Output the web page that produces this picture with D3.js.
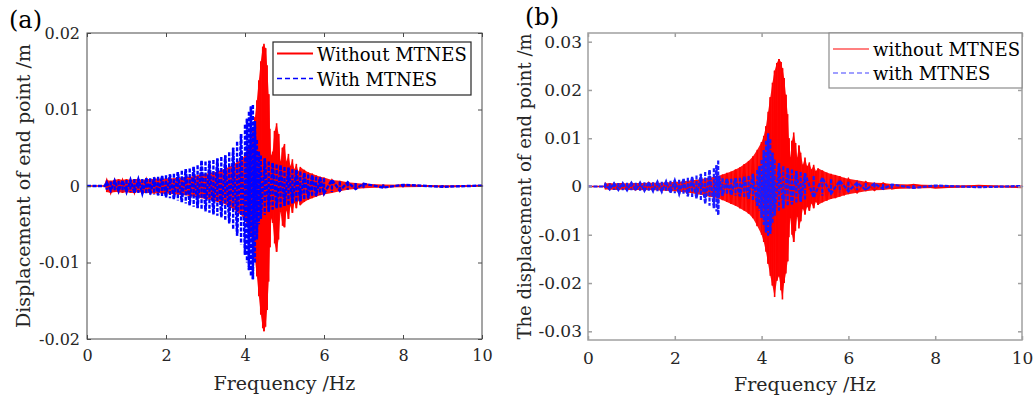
<!DOCTYPE html>
<html>
<head>
<meta charset="utf-8">
<script src="https://cdn.jsdelivr.net/npm/d3@7"></script>
<style>
	body{margin:0;background:#fff;}
	svg text{font-family:'DejaVu Serif', serif;}
</style>
</head>
<body>
<div class="chart"></div>
<script>
//tick values
const freqTicks = [0,2,4,6,8,10];
const dispTicksA = [-0.02,-0.01,0,0.01,0.02];
const dispTicksB = [-0.03,-0.02,-0.01,0,0.01,0.02,0.03];

//legend labels
const legendA = ['Without MTNES','With MTNES'];
const legendB = ['without MTNES','with MTNES'];

//envelopes: [frequency Hz, upper m, lower m]
const withoutA = [
	[0,0,0],[0.45,0,0],[0.5,.0008,-.0008],[0.6,.0007,-.0009],[0.7,.0008,-.0008],[0.8,.0009,-.0008],
	[0.9,.0008,-.0009],[1.0,.0009,-.0008],[1.1,.0008,-.0009],[1.2,.0009,-.0009],[1.3,.0009,-.0008],
	[1.4,.0008,-.0009],[1.5,.0009,-.0009],[1.6,.0009,-.0009],[1.7,.0009,-.0010],[1.8,.0010,-.0009],
	[1.9,.0009,-.0010],[2.0,.0010,-.0010],[2.1,.0010,-.0010],[2.2,.0010,-.0011],[2.3,.0011,-.0011],
	[2.4,.0011,-.0012],[2.5,.0012,-.0012],[2.6,.0012,-.0013],[2.7,.0013,-.0014],[2.8,.0014,-.0015],
	[2.9,.0015,-.0016],[3.0,.0016,-.0017],[3.1,.0017,-.0018],[3.2,.0018,-.0019],[3.3,.0019,-.0021],
	[3.4,.0021,-.0022],[3.5,.0023,-.0024],[3.6,.0025,-.0027],[3.7,.0028,-.0030],[3.8,.0031,-.0034],
	[3.9,.0035,-.0038],[4.0,.0040,-.0044],[4.05,.0045,-.0049],[4.1,.0052,-.0056],[4.15,.0060,-.0065],
	[4.2,.0072,-.0078],[4.25,.0090,-.0095],[4.3,.0112,-.0118],[4.35,.0138,-.0144],[4.4,.0163,-.0168],
	[4.45,.0182,-.0186],[4.48,.0186,-.0190],[4.52,.0180,-.0184],[4.56,.0158,-.0162],[4.6,.0120,-.0125],
	[4.63,.0075,-.0080],[4.66,.0040,-.0042],[4.7,.0045,-.0048],[4.75,.0072,-.0075],[4.8,.0082,-.0086],
	[4.85,.0068,-.0070],[4.9,.0032,-.0034],[4.95,.0050,-.0052],[5.0,.0055,-.0054],[5.05,.0032,-.0032],
	[5.1,.0042,-.0043],[5.15,.0026,-.0026],[5.2,.0035,-.0035],[5.25,.0022,-.0022],[5.3,.0029,-.0029],
	[5.35,.0019,-.0019],[5.4,.0025,-.0025],[5.5,.0021,-.0021],[5.6,.0018,-.0018],[5.7,.0016,-.0016],
	[5.8,.0014,-.0014],[5.9,.0012,-.0012],[6.0,.0011,-.0011],[6.2,.0008,-.0009],[6.4,.0007,-.0007],
	[6.6,.0005,-.0005],[6.8,.0004,-.0004],[7.0,.0003,-.0003],[7.5,.0002,-.0002],[8.0,.00015,-.00015],
	[9.0,.0001,-.0001],[10,.00005,-.00005]
];
const withA = [
	[0,0,0],[0.45,0,0],[0.5,.0005,-.0005],[0.6,.0006,-.0006],[0.7,.0007,-.0006],[0.8,.0007,-.0007],
	[0.9,.0007,-.0008],[1.0,.0008,-.0008],[1.1,.0008,-.0008],[1.2,.0009,-.0009],[1.3,.0009,-.0009],
	[1.4,.0009,-.0010],[1.5,.0010,-.0010],[1.6,.0010,-.0011],[1.7,.0011,-.0011],[1.8,.0012,-.0012],
	[1.9,.0013,-.0013],[2.0,.0014,-.0015],[2.1,.0015,-.0016],[2.2,.0016,-.0017],[2.3,.0018,-.0019],
	[2.4,.0020,-.0021],[2.5,.0022,-.0023],[2.6,.0023,-.0025],[2.7,.0025,-.0027],[2.8,.0027,-.0029],
	[2.9,.0033,-.0031],[3.0,.0032,-.0033],[3.1,.0033,-.0035],[3.2,.0034,-.0037],[3.3,.0036,-.0039],
	[3.4,.0038,-.0041],[3.5,.0040,-.0044],[3.6,.0044,-.0049],[3.7,.0050,-.0056],[3.8,.0058,-.0065],
	[3.9,.0068,-.0076],[4.0,.0080,-.0090],[4.05,.0088,-.0100],[4.1,.0097,-.0110],[4.15,.0104,-.0118],
	[4.2,.0106,-.0122],[4.25,.0085,-.0100],[4.3,.0060,-.0070],[4.35,.0045,-.0050],[4.4,.0040,-.0043],
	[4.5,.0036,-.0038],[4.6,.0032,-.0034],[4.7,.0030,-.0031],[4.8,.0028,-.0029],[4.9,.0027,-.0028],
	[5.0,.0025,-.0026],[5.1,.0024,-.0025],[5.2,.0022,-.0023],[5.3,.0021,-.0022],[5.4,.0019,-.0020],
	[5.5,.0017,-.0018],[5.6,.0015,-.0016],[5.7,.0014,-.0014],[5.8,.0012,-.0013],[5.9,.0011,-.0011],
	[6.0,.0010,-.0010],[6.2,.0008,-.0008],[6.4,.0006,-.0006],[6.6,.0005,-.0005],[6.8,.0004,-.0004],
	[7.0,.0003,-.0003],[7.5,.0002,-.0002],[8.0,.00015,-.00015],[9.0,.0001,-.0001],[10,.00005,-.00005]
];
const withoutB = [
	[0,0,0],[0.38,0,0],[0.4,.0006,-.0006],[0.5,.0007,-.0006],[0.6,.0006,-.0007],[0.7,.0007,-.0007],
	[0.8,.0007,-.0006],[0.9,.0006,-.0007],[1.0,.0007,-.0007],[1.1,.0007,-.0007],[1.2,.0007,-.0007],
	[1.3,.0007,-.0008],[1.4,.0008,-.0007],[1.5,.0008,-.0008],[1.6,.0008,-.0008],[1.7,.0008,-.0009],
	[1.8,.0009,-.0009],[1.9,.0009,-.0010],[2.0,.0010,-.0010],[2.1,.0010,-.0011],[2.2,.0011,-.0012],
	[2.3,.0012,-.0013],[2.4,.0013,-.0014],[2.5,.0014,-.0016],[2.6,.0015,-.0017],[2.7,.0017,-.0019],
	[2.8,.0018,-.0021],[2.9,.0020,-.0023],[3.0,.0022,-.0025],[3.1,.0025,-.0028],[3.2,.0028,-.0032],
	[3.3,.0031,-.0036],[3.4,.0035,-.0040],[3.5,.0040,-.0045],[3.6,.0046,-.0050],[3.7,.0053,-.0056],
	[3.8,.0062,-.0066],[3.9,.0076,-.0082],[4.0,.0092,-.0100],[4.05,.0105,-.0115],[4.1,.0125,-.0135],
	[4.15,.0155,-.0160],[4.2,.0185,-.0185],[4.25,.0215,-.0205],[4.3,.0240,-.0229],[4.35,.0256,-.0195],
	[4.4,.0264,-.0186],[4.45,.0258,-.0215],[4.48,.0245,-.0234],[4.52,.0225,-.0200],[4.56,.0190,-.0180],
	[4.6,.0150,-.0155],[4.63,.0100,-.0105],[4.66,.0060,-.0065],[4.7,.0095,-.0100],[4.74,.0112,-.0115],
	[4.78,.0090,-.0092],[4.82,.0060,-.0062],[4.86,.0085,-.0087],[4.9,.0070,-.0072],[4.95,.0045,-.0046],
	[5.0,.0060,-.0058],[5.05,.0042,-.0042],[5.1,.0050,-.0050],[5.15,.0035,-.0035],[5.2,.0045,-.0045],
	[5.25,.0032,-.0032],[5.3,.0038,-.0038],[5.4,.0033,-.0033],[5.5,.0029,-.0029],[5.6,.0026,-.0026],
	[5.7,.0024,-.0024],[5.8,.0021,-.0021],[5.9,.0018,-.0018],[6.0,.0016,-.0016],[6.2,.0013,-.0013],
	[6.4,.0010,-.0010],[6.6,.0008,-.0008],[6.8,.0007,-.0007],[7.0,.0005,-.0005],[7.5,.0004,-.0004],
	[8.0,.0003,-.0003],[9.0,.0002,-.0002],[10,.0002,-.0002]
];
const withB = [
	[0,0,0],[0.38,0,0],[0.4,.0005,-.0005],[0.5,.0006,-.0006],[0.6,.0007,-.0007],[0.7,.0007,-.0007],
	[0.8,.0007,-.0008],[0.9,.0008,-.0008],[1.0,.0008,-.0008],[1.1,.0008,-.0008],[1.2,.0008,-.0009],
	[1.3,.0009,-.0009],[1.4,.0009,-.0009],[1.5,.0009,-.0010],[1.6,.0010,-.0010],[1.7,.0010,-.0011],
	[1.8,.0011,-.0012],[1.9,.0012,-.0013],[2.0,.0013,-.0014],[2.1,.0014,-.0016],[2.2,.0016,-.0018],
	[2.3,.0018,-.0020],[2.4,.0020,-.0022],[2.5,.0023,-.0025],[2.6,.0026,-.0030],[2.7,.0030,-.0035],
	[2.8,.0034,-.0040],[2.9,.0038,-.0045],[2.96,.0044,-.0052],[3.0,.0054,-.0060],[3.02,.0022,-.0024],
	[3.1,.0017,-.0019],[3.2,.0016,-.0018],[3.3,.0016,-.0018],[3.4,.0017,-.0019],[3.5,.0018,-.0020],
	[3.6,.0020,-.0022],[3.7,.0022,-.0025],[3.8,.0026,-.0030],[3.9,.0034,-.0040],[3.95,.0042,-.0050],
	[4.0,.0055,-.0065],[4.05,.0075,-.0080],[4.1,.0095,-.0095],[4.15,.0110,-.0102],[4.2,.0098,-.0098],
	[4.25,.0070,-.0075],[4.3,.0056,-.0060],[4.4,.0048,-.0050],[4.5,.0042,-.0045],[4.6,.0038,-.0040],
	[4.7,.0035,-.0037],[4.8,.0032,-.0034],[4.9,.0030,-.0031],[5.0,.0027,-.0028],[5.2,.0022,-.0023],
	[5.4,.0018,-.0019],[5.6,.0015,-.0015],[5.8,.0012,-.0012],[6.0,.0010,-.0010],[6.2,.0008,-.0008],
	[6.4,.0007,-.0007],[6.6,.0006,-.0006],[6.8,.0005,-.0005],[7.0,.0004,-.0004],[7.5,.0003,-.0003],
	[8.0,.0002,-.0002],[9.0,.00015,-.00015],[10,.0001,-.0001]
];

const W = 1035, H = 400;
const svg = d3.select('.chart').append('svg')
	.attr('width', W)
	.attr('height', H);

const fmt = d => String(+d.toFixed(2));

function drawPanel(cfg){
	const x = d3.scaleLinear().domain([0,10]).range([cfg.l, cfg.r]);
	const y = d3.scaleLinear().domain(cfg.yDomain).range([cfg.b, cfg.t]);
	const g = svg.append('g');

	//signals: envelope fill + a stroke per sample + zigzag between upper/lower
	cfg.series.forEach(s => {
		const sg = g.append('g');
		if(s.fill){
			sg.append('path').datum(s.data)
				.attr('d', d3.area().x(d => x(d[0])).y0(d => y(d[2])).y1(d => y(d[1])))
				.attr('fill', s.color)
				.attr('fill-opacity', s.fill);
		}
		sg.selectAll('line').data(s.data).join('line')
			.attr('x1', d => x(d[0])).attr('x2', d => x(d[0]))
			.attr('y1', d => y(d[1])).attr('y2', d => y(d[2]))
			.attr('stroke', s.color)
			.attr('stroke-width', s.width)
			.attr('stroke-dasharray', s.dash);
		sg.append('path').datum(s.data)
			.attr('d', d3.line().x(d => x(d[0])).y((d,i) => y(i%2 ? d[2] : d[1])))
			.attr('fill', 'none')
			.attr('stroke', s.color)
			.attr('stroke-width', s.width)
			.attr('stroke-dasharray', s.dash);
	});

	//axes, ticks inside on all four sides
	const ax = g.append('g').attr('color', cfg.axisColor);
	ax.append('g').attr('transform', `translate(0,${cfg.b})`)
		.call(d3.axisBottom(x).tickValues(freqTicks).tickSize(-4).tickPadding(cfg.xPad).tickFormat(fmt));
	ax.append('g').attr('transform', `translate(0,${cfg.t})`)
		.call(d3.axisTop(x).tickValues(freqTicks).tickSize(-4).tickFormat(''));
	ax.append('g').attr('transform', `translate(${cfg.l},0)`)
		.call(d3.axisLeft(y).tickValues(cfg.yTicks).tickSize(-4).tickPadding(cfg.yPad).tickFormat(fmt));
	ax.append('g').attr('transform', `translate(${cfg.r},0)`)
		.call(d3.axisRight(y).tickValues(cfg.yTicks).tickSize(-4).tickFormat(''));
	ax.selectAll('.domain').remove();
	ax.selectAll('.tick line').attr('stroke-width', cfg.axisWidth);
	ax.selectAll('.tick text')
		.attr('fill', '#262626')
		.style('font-family', "'DejaVu Serif', serif")
		.style('font-size', cfg.tickSize + 'px');
	ax.append('rect')
		.attr('x', cfg.l).attr('y', cfg.t)
		.attr('width', cfg.r - cfg.l).attr('height', cfg.b - cfg.t)
		.attr('fill', 'none')
		.attr('stroke', cfg.axisColor)
		.attr('stroke-width', cfg.axisWidth);

	//axis titles
	g.append('text')
		.attr('x', (cfg.l + cfg.r)/2).attr('y', cfg.xTitleY)
		.attr('text-anchor', 'middle')
		.attr('fill', '#262626')
		.style('font-size', '19px')
		.text('Frequency /Hz');
	g.append('text')
		.attr('transform', `translate(${cfg.yTitleX},${(cfg.t + cfg.b)/2}) rotate(-90)`)
		.attr('text-anchor', 'middle')
		.attr('fill', '#262626')
		.style('font-size', cfg.yTitleSize + 'px')
		.text(cfg.yTitle);

	//panel tag
	g.append('text')
		.attr('x', cfg.tag[1]).attr('y', cfg.tag[2])
		.style('font-size', '24px')
		.attr('fill', '#000')
		.text(cfg.tag[0]);

	//legend
	const lg = g.append('g');
	const lb = cfg.legendBox;
	lg.append('rect')
		.attr('x', lb.x).attr('y', lb.y).attr('width', lb.w).attr('height', lb.h)
		.attr('fill', '#fff')
		.attr('stroke', cfg.legendStroke)
		.attr('stroke-width', 1.2);
	cfg.series.forEach((s,i) => {
		const ly = lb.y + lb.first + i*lb.step;
		lg.append('line')
			.attr('x1', lb.x + 4).attr('x2', lb.x + 40)
			.attr('y1', ly).attr('y2', ly)
			.attr('stroke', s.legendColor)
			.attr('stroke-width', s.legendWidth)
			.attr('stroke-dasharray', s.legendDash);
		lg.append('text')
			.attr('x', lb.x + 44).attr('y', ly + 7)
			.attr('fill', '#000')
			.style('font-size', '18px')
			.text(cfg.labels[i]);
	});
}

drawPanel({
	l:87, r:482, t:33, b:339,
	yDomain:[-0.02, 0.02], yTicks:dispTicksA,
	axisColor:'#4a4a4a', axisWidth:1,
	xPad:11, yPad:7, tickSize:16,
	xTitleY:390, yTitleX:30, yTitleSize:19,
	yTitle:'Displacement of end point /m',
	tag:['(a)', 9, 28],
	legendBox:{x:273, y:42, w:198, h:53, first:11.5, step:25},
	legendStroke:'#262626',
	labels:legendA,
	series:[
		{data:withoutA, color:'#ff0000', fill:0.92, width:1.6, dash:null,
			legendColor:'#ff0000', legendWidth:2, legendDash:null},
		{data:withA, color:'#0000ff', fill:0, width:2.4, dash:'4,1.5',
			legendColor:'#0000ff', legendWidth:1.6, legendDash:'5,3'}
	]
});

drawPanel({
	l:588, r:1022, t:33, b:340,
	yDomain:[-0.0318, 0.0318], yTicks:dispTicksB,
	axisColor:'#a0a0a0', axisWidth:1.5,
	xPad:12, yPad:6, tickSize:17,
	xTitleY:391, yTitleX:531, yTitleSize:18,
	yTitle:'The displacement of end point /m',
	tag:['(b)', 525, 25],
	legendBox:{x:829, y:33, w:193, h:55, first:16, step:24},
	legendStroke:'#8c8c8c',
	labels:legendB,
	series:[
		{data:withoutB, color:'#ff0000', fill:0.92, width:1.6, dash:null,
			legendColor:'#ff8080', legendWidth:2, legendDash:null},
		{data:withB, color:'#1a1aff', fill:0, width:2.2, dash:'4,1.5',
			legendColor:'#8080ff', legendWidth:1.6, legendDash:'5,3'}
	]
});
</script>
</body>
</html>
